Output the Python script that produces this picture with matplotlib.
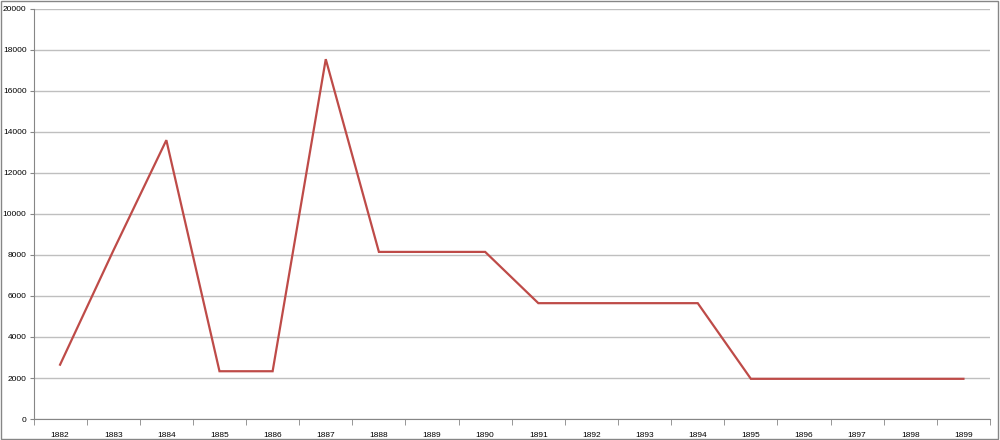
import matplotlib.pyplot as plt
import numpy as np
from matplotlib.patches import Rectangle

years = [str(y) for y in range(1882, 1900)]
values = [2650, 8200, 13600, 2330, 2330, 17550, 8150, 8150, 8150,
          5650, 5650, 5650, 5650, 1960, 1960, 1960, 1960, 1960]
yticks = list(range(0, 20001, 2000))

plt.rcParams['font.family'] = ['Liberation Sans', 'DejaVu Sans']

fig = plt.figure(figsize=(10, 4.4), dpi=100)
ax = fig.add_axes([0.0335, 0.0477, 0.9565, 0.932])

x = np.arange(len(years))
ax.plot(x, values, color='#BE4B48', linewidth=1.6, solid_joinstyle='miter')

ax.set_xlim(-0.5, len(years) - 0.5)
ax.set_ylim(0, 20000)
ax.set_yticks(yticks)
ax.set_yticklabels([str(t) for t in yticks])
ax.set_xticks(x)
ax.set_xticklabels(years)
ax.set_xticks(np.arange(-0.5, len(years), 1), minor=True)

ax.grid(axis='y', color='#BFBFBF', linewidth=1)
ax.set_axisbelow(True)
for s in ['top', 'right']:
    ax.spines[s].set_visible(False)
ax.spines['left'].set_color('#868686')
ax.spines['bottom'].set_color('#868686')
ax.tick_params(axis='x', which='major', length=0, labelsize=6, pad=9, colors='#000000')
ax.tick_params(axis='x', which='minor', length=4, color='#868686')
ax.tick_params(axis='y', length=3, color='#868686', labelsize=6, pad=2)

fig.patches.append(Rectangle((0.001, 0.002), 0.997, 0.995, transform=fig.transFigure,
                             fill=False, edgecolor='#868686', linewidth=1))

fig.savefig('out.png', dpi=100)
